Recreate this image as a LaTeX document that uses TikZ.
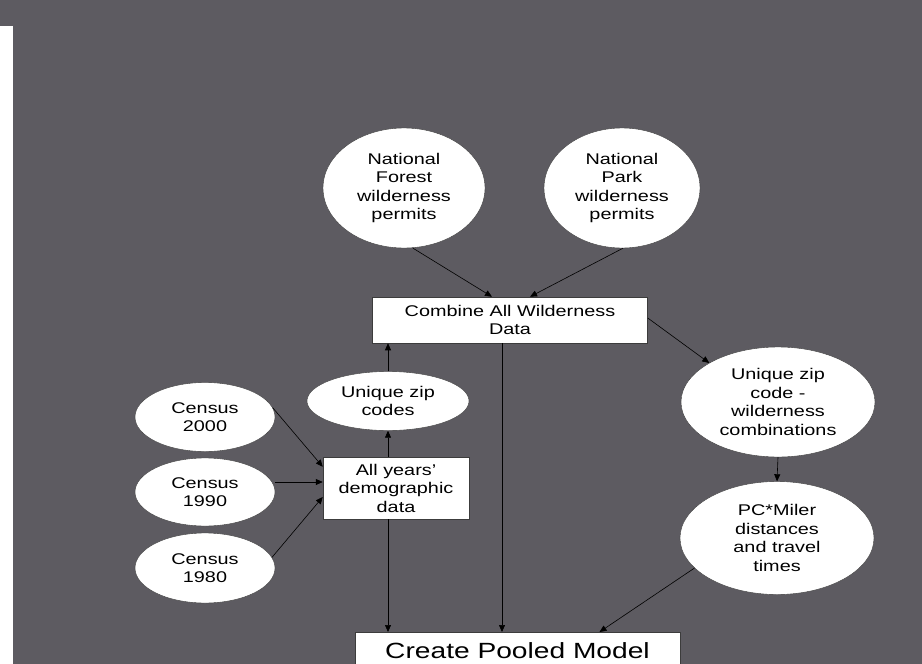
\documentclass[tikz,border=0pt]{standalone}
\usepackage{fontspec}
\setmainfont{Liberation Sans}[FakeStretch=1.28]
\usetikzlibrary{shapes.geometric,arrows.meta,calc}
\definecolor{bgc}{RGB}{93,91,97}
\definecolor{edgec}{RGB}{60,60,60}
\begin{document}
\begin{tikzpicture}[x=1pt,y=-1pt,
  oval/.style={ellipse,fill=white,draw=edgec,line width=0.4pt,inner sep=0pt,align=center,
    font=\fontsize{15.5}{18.5}\selectfont},
  boxn/.style={rectangle,fill=white,draw=edgec,line width=0.5pt,inner sep=0pt,align=center,
    font=\fontsize{15.5}{18.5}\selectfont},
  arr/.style={-{Triangle[length=7pt,width=6pt]},line width=0.6pt,black},
  ln/.style={line width=0.6pt,black}]
\useasboundingbox (0,0) rectangle (922,664);
\fill[bgc] (0,0) rectangle (922,664);
\fill[white] (0,26) rectangle (13,664);

\node[oval,minimum width=162pt,minimum height=120pt] (forest) at (404,188) {National\\Forest\\wilderness\\permits};
\node[oval,minimum width=156pt,minimum height=120pt] (park) at (622,188) {National\\Park\\wilderness\\permits};
\node[boxn,minimum width=275pt,minimum height=46pt] (comb) at (510,320) {Combine All Wilderness\\Data};
\node[oval,minimum width=162pt,minimum height=59pt] (uz) at (388,401) {Unique zip\\codes};
\node[oval,minimum width=140pt,minimum height=69pt] (c2000) at (205,417) {Census\\2000};
\node[oval,minimum width=140pt,minimum height=68pt] (c1990) at (205,492) {Census\\1990};
\node[oval,minimum width=140pt,minimum height=70pt] (c1980) at (205,568) {Census\\1980};
\node[boxn,minimum width=146pt,minimum height=62pt] (all) at (396,488) {All years'\\demographic\\data};
\node[oval,minimum width=194pt,minimum height=110pt] (uzw) at (778,402) {Unique zip\\code -\\wilderness\\combinations};
\node[oval,minimum width=194pt,minimum height=113pt] (pc) at (777,538) {PC*Miler\\distances\\and travel\\times};
\node[boxn,minimum width=325pt,anchor=north,inner ysep=10pt,
  font=\fontsize{22}{26}\selectfont,text height=16pt,text depth=5pt] (pool) at (517.5,632) {Create Pooled Model};

\draw[arr] ([xshift=9pt]forest.south) -- ([xshift=-18pt]comb.north);
\draw[arr] ([xshift=1pt]park.south) -- ([xshift=20pt]comb.north);
\draw[arr] ([yshift=2pt]comb.east) -- (uzw.north west);
\draw[arr] (uzw.south) -- (pc.north);
\draw[arr] (pc.200) -- ([xshift=82pt]pool.north);
\draw[arr] (c2000.8) -- ([yshift=-10pt]all.north west);
\draw[arr] ([yshift=10pt]c1990.east) -- ([yshift=10pt]c1990.east -| all.west);
\draw[arr] (c1980.9) -- ([yshift=-9pt]all.west);
\draw[arr] (uz.south |- all.north) -- (uz.south);
\draw[arr] (uz.north) -- (uz.north |- comb.south);
\draw[arr] ([xshift=-8pt]all.south) -- ([xshift=-8pt]all.south |- pool.north);
\draw[arr] ([xshift=-8pt]comb.south) -- ([xshift=-8pt]comb.south |- pool.north);
\end{tikzpicture}
\end{document}
